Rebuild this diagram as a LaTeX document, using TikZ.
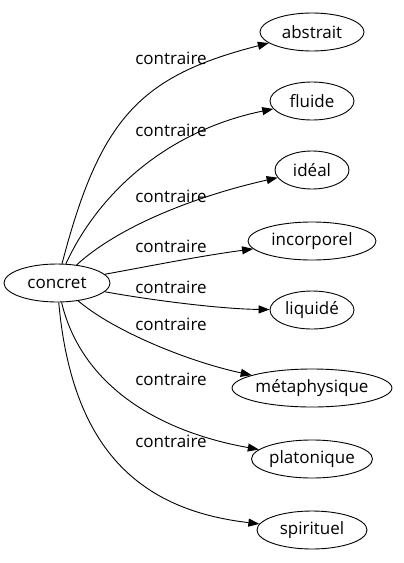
\documentclass[tikz,border=0pt]{standalone}
\usepackage{fontspec}
\setmainfont{Open Sans}
\usetikzlibrary{arrows.meta,shapes.geometric}
\begin{document}
\begin{tikzpicture}[x=1pt,y=-1pt,
  ell/.style={ellipse,draw,line width=0.9pt,inner sep=0pt,minimum height=38,font=\fontsize{17}{20}\selectfont},
  lbl/.style={inner sep=0pt,font=\fontsize{17}{20}\selectfont},
  edge/.style={line width=0.9pt,-{Triangle[length=11pt,width=8pt]}}]
\useasboundingbox (0,0) rectangle (404,563);
\node[ell,minimum width=106] (concret) at (57,283) {concret};
\node[ell,minimum width=104] (abstrait) at (312,32) {abstrait};
\node[ell,minimum width=84] (fluide) at (312,101) {fluide};
\node[ell,minimum width=74] (ideal) at (312,170) {idéal};
\node[ell,minimum width=128] (incorporel) at (312,241) {incorporel};
\node[ell,minimum width=84] (liquide) at (312,310) {liquidé};
\node[ell,minimum width=136] (metaphysique) at (312,388) {métaphysique};
\node[ell,minimum width=114] (platonique) at (312,459) {platonique};
\node[ell,minimum width=110] (spirituel) at (312,530) {spirituel};
\node[lbl] (l1) at (171,58) {contraire};
\node[lbl] (l2) at (171,130) {contraire};
\node[lbl] (l3) at (171,196) {contraire};
\node[lbl] (l4) at (171,246) {contraire};
\node[lbl] (l5) at (171,287) {contraire};
\node[lbl] (l6) at (171,324) {contraire};
\node[lbl] (l7) at (171,379) {contraire};
\node[lbl] (l8) at (171,441) {contraire};
\draw[edge] (concret) .. controls (100,118) and (140,76) .. (abstrait);
\draw[edge] (concret) .. controls (100,190) and (170,130) .. (fluide);
\draw[edge] (concret) .. controls (120,225) and (200,195) .. (ideal);
\draw[edge] (concret) .. controls (150,266) and (200,256) .. (incorporel);
\draw[edge] (concret) .. controls (150,300) and (220,309) .. (liquide);
\draw[edge] (concret) .. controls (115,332) and (190,362) .. (metaphysique);
\draw[edge] (concret) .. controls (80,380) and (150,430) .. (platonique);
\draw[edge] (concret) .. controls (72,450) and (140,510) .. (spirituel);
\end{tikzpicture}
\end{document}
